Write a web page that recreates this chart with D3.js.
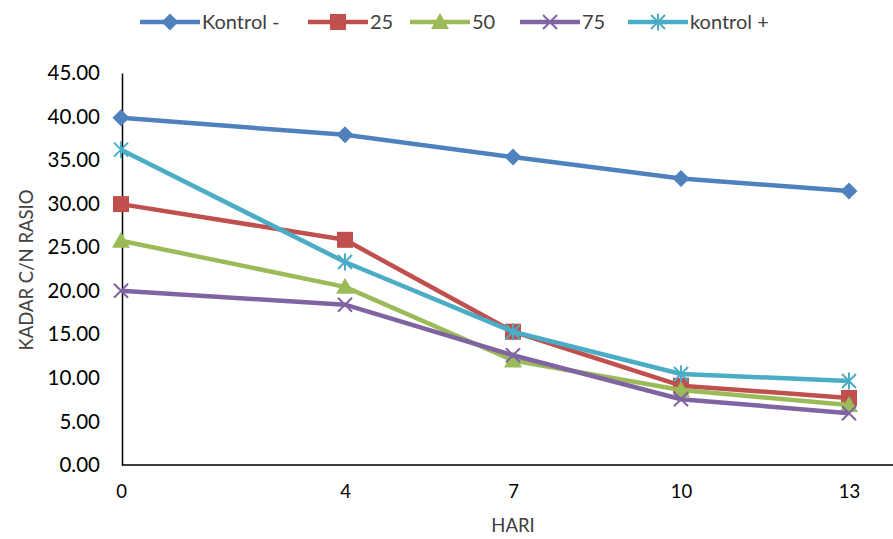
<!DOCTYPE html>
<html>
<head>
<meta charset="utf-8">
<script src="https://cdn.jsdelivr.net/npm/d3@7/dist/d3.min.js"></script>
<style>
  html, body { margin: 0; padding: 0; background: #fff; }
  svg text { font-family: Lato, "Open Sans", sans-serif; }
</style>
</head>
<body>
<svg id="chart" width="893" height="539"></svg>
<script>
// Days of observation
const days = [0, 4, 7, 10, 13];
// C/N ratio per treatment
const kontrolMinus = [39.85, 37.9, 35.35, 32.9, 31.45];
const p25 = [29.95, 25.85, 15.3, 9.1, 7.7];
const p50 = [25.75, 20.45, 12.0, 8.6, 6.9];
const p75 = [20.0, 18.4, 12.6, 7.55, 5.95];
const kontrolPlus = [36.2, 23.3, 15.3, 10.45, 9.65];
const seriesNames = ["Kontrol -", "25", "50", "75", "kontrol +"];
const yTicks = [0, 5, 10, 15, 20, 25, 30, 35, 40, 45];

const colors = ["#4F81BD", "#C0504D", "#9BBB59", "#8064A2", "#4BACC6"];
const markers = ["diamond", "square", "triangle", "x", "star"];
const seriesValues = [kontrolMinus, p25, p50, p75, kontrolPlus];

const series = seriesNames.map((name, i) => ({
  name, color: colors[i], marker: markers[i],
  points: days.map((d, j) => ({ day: d, value: seriesValues[i][j] }))
}));

const svg = d3.select("#chart");
const x = d3.scaleLinear().domain([0, 13]).range([121, 849]);
const y = d3.scaleLinear().domain([0, 45]).range([465, 73]);

// Axes
const yAxis = d3.axisLeft(y).tickValues(yTicks).tickSize(0).tickPadding(22)
  .tickFormat(d3.format(".2f"));
const gy = svg.append("g").attr("transform", "translate(122,0)").call(yAxis);
gy.select(".domain").attr("stroke", "#000").attr("stroke-width", 1.5);
gy.selectAll("text").attr("font-size", "20.5px").attr("fill", "#000")
  .attr("font-family", "Lato, 'Open Sans', sans-serif");

const xAxis = d3.axisBottom(x).tickValues(days).tickSize(0).tickPadding(20)
  .tickFormat(d3.format("d"));
const gx = svg.append("g").attr("transform", "translate(0,465)").call(xAxis);
gx.select(".domain").attr("d", "M122,0H893").attr("stroke", "#000").attr("stroke-width", 1.5);
gx.selectAll("text").attr("font-size", "18.5px").attr("fill", "#000")
  .attr("font-family", "Lato, 'Open Sans', sans-serif");

// Axis titles
svg.append("text").attr("x", 513).attr("y", 532).attr("text-anchor", "middle")
  .attr("font-size", "18.5px").attr("fill", "#404040").text("HARI");
svg.append("text").attr("transform", "translate(33,270) rotate(-90)")
  .attr("text-anchor", "middle").attr("font-size", "18.5px").attr("fill", "#404040")
  .text("KADAR C/N RASIO");

// Marker drawing
function drawMarker(g, type, color, cx, cy) {
  if (type === "diamond") {
    g.append("path").attr("d", `M${cx},${cy - 8.5}L${cx + 8.5},${cy}L${cx},${cy + 8.5}L${cx - 8.5},${cy}Z`)
      .attr("fill", color);
  } else if (type === "square") {
    g.append("rect").attr("x", cx - 8).attr("y", cy - 8).attr("width", 16).attr("height", 16)
      .attr("fill", color);
  } else if (type === "triangle") {
    g.append("path").attr("d", `M${cx},${cy - 9}L${cx + 9},${cy + 7}L${cx - 9},${cy + 7}Z`)
      .attr("fill", color);
  } else if (type === "x") {
    const r = 7;
    g.append("path").attr("d", `M${cx - r},${cy - r}L${cx + r},${cy + r}M${cx - r},${cy + r}L${cx + r},${cy - r}`)
      .attr("stroke", color).attr("stroke-width", 2).attr("fill", "none");
  } else if (type === "star") {
    const r = 7;
    g.append("path").attr("d", `M${cx - r},${cy - r}L${cx + r},${cy + r}M${cx - r},${cy + r}L${cx + r},${cy - r}M${cx},${cy - 8.5}L${cx},${cy + 8.5}`)
      .attr("stroke", color).attr("stroke-width", 2).attr("fill", "none");
  }
}

const line = d3.line().x(d => x(d.day)).y(d => y(d.value));

series.forEach(s => {
  const g = svg.append("g");
  g.append("path").datum(s.points).attr("d", line)
    .attr("fill", "none").attr("stroke", s.color).attr("stroke-width", 4.5)
    .attr("stroke-linejoin", "round");
  s.points.forEach(p => drawMarker(g, s.marker, s.color, x(p.day), y(p.value)));
});

// Legend
const legendX = [140, 308, 410, 520, 628];
const legend = svg.append("g");
series.forEach((s, i) => {
  const lx = legendX[i], ly = 22;
  legend.append("line").attr("x1", lx).attr("x2", lx + 60).attr("y1", ly).attr("y2", ly)
    .attr("stroke", s.color).attr("stroke-width", 4.5);
  drawMarker(legend, s.marker, s.color, lx + 30, ly);
  legend.append("text").attr("x", lx + 62).attr("y", ly).attr("dy", "0.35em")
    .attr("font-size", "20px").attr("fill", "#404040").text(s.name);
});
</script>
</body>
</html>
